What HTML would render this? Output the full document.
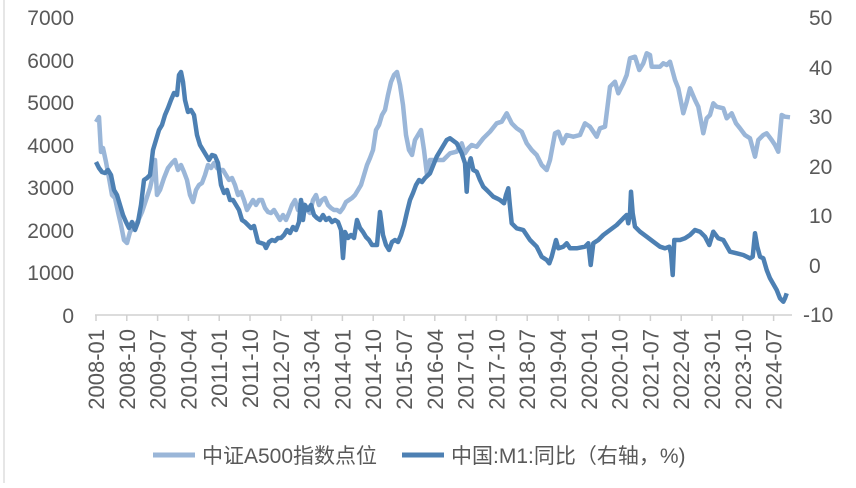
<!DOCTYPE html>
<html><head><meta charset="utf-8"><style>
html,body{margin:0;padding:0;background:#fff;}
svg text{font-family:"Liberation Sans","Noto Sans CJK SC",sans-serif;fill:#595959;}
</style></head><body>
<svg id="s" width="856" height="483" viewBox="0 0 856 483" xmlns="http://www.w3.org/2000/svg">
<line x1="4" y1="0" x2="4" y2="483" stroke="#ddd" stroke-width="1.5"/>
<g font-size="21" text-anchor="end">
<text x="74" y="25">7000</text><text x="74" y="68">6000</text><text x="74" y="110">5000</text>
<text x="74" y="153">4000</text><text x="74" y="195">3000</text><text x="74" y="238">2000</text>
<text x="74" y="280">1000</text><text x="74" y="323">0</text>
</g>
<g font-size="21" text-anchor="start">
<text x="809" y="25">50</text><text x="809" y="75">40</text><text x="809" y="124">30</text>
<text x="809" y="174">20</text><text x="809" y="223">10</text><text x="809" y="273">0</text>
<text x="803" y="322">-10</text>
</g>
<line x1="95" y1="315" x2="792" y2="315" stroke="#d0d0d0" stroke-width="1.5"/>
<g id="ticks"></g>
<polyline id="light" fill="none" stroke="#9ab6d8" stroke-width="4.5" stroke-linejoin="round"/>
<polyline id="dark" fill="none" stroke="#4d80b3" stroke-width="4.5" stroke-linejoin="round"/>
<line x1="153" y1="455" x2="195" y2="455" stroke="#9ab6d8" stroke-width="5"/>
<text x="202" y="463" font-size="21">中证A500指数点位</text>
<line x1="402" y1="455" x2="444" y2="455" stroke="#4d80b3" stroke-width="5"/>
<text x="451" y="463" font-size="21">中国:M1:同比（右轴，%)</text>
</svg>
<script>
var NS="http://www.w3.org/2000/svg";
var labels=["2008-01","2008-10","2009-07","2010-04","2011-01","2011-10","2012-07","2013-04","2014-01","2014-10","2015-07","2016-04","2017-01","2017-10","2018-07","2019-04","2020-01","2020-10","2021-07","2022-04","2023-01","2023-10","2024-07"];
var g=document.getElementById("ticks");
labels.forEach(function(l,i){
 var x=96+i*30.8;
 var ln=document.createElementNS(NS,"line");
 ln.setAttribute("x1",x);ln.setAttribute("x2",x);ln.setAttribute("y1",315);ln.setAttribute("y2",321);
 ln.setAttribute("stroke","#d0d0d0");ln.setAttribute("stroke-width","1.5");g.appendChild(ln);
 var t=document.createElementNS(NS,"text");
 t.setAttribute("transform","translate("+(x+8)+",329) rotate(-90)");
 t.setAttribute("text-anchor","end");t.setAttribute("font-size","22");t.textContent=l;g.appendChild(t);
});
var lightL=[96,122,99,117,101,152,103,148,106,162,109,178,112,195,115,198,118,212,121,225,124,240,127,243,130,232,134,226,138,221,142,212,146,200,150,188,153,175,155,160,157,195,160,190,164,178,168,168,172,163,175,160,178,170,181,165,184,172,187,180,190,195,193,202,196,190,199,185,202,183,205,175,208,165,211,168,214,163,217,168,220,170,223,170,226,175,229,180,232,178,235,185,238,195,241,192,244,200,247,210,250,205,253,200,256,205,259,200,262,200,265,208,268,212,271,213,274,210,277,215,280,220,283,215,286,220,289,213,292,205,295,200,298,210,301,202,304,205,307,210,310,213,313,200,316,195,319,205,322,200,325,198,328,205,331,208,334,210,337,210,340,212,343,208,346,202,349,200,352,198,355,195,358,190,361,185,364,175,367,165,370,158,373,150,376,130,379,125,382,115,385,110,388,95,391,82,394,75,397,72,400,85,403,105,406,135,409,150,412,155,415,140,418,135,421,130,424,150,427,175];
var lightR=[0,480,40,480,60,460,80,455,95,430,105,460,115,445,125,435,140,440,160,415,180,395,200,370,215,365,230,340,245,370,260,385,275,395,290,430,305,450,320,465,335,495,350,510,360,480,375,400,385,395,398,430,410,405,430,410,450,405,465,370,480,380,500,410,510,385,525,380,540,260,555,245,565,280,580,250,590,225,600,175,615,170,628,210,640,190,650,160,660,165,665,200,690,200,700,190,710,195,720,185,735,240,745,265,760,340,770,305,780,265,795,300,805,320,820,400,830,355,840,345,850,310,860,320,880,325,890,355,905,340,918,370,930,385,945,405,960,415,975,470,985,420,1000,405,1010,400,1025,420,1035,435,1045,455,1055,345,1065,350,1080,352];
var darkL=[96,162,99,168,102,172,105,173,108,170,111,175,114,190,117,195,120,205,123,215,126,222,129,228,132,222,135,230,138,222,141,205,144,180,147,178,150,175,153,150,156,140,159,130,162,125,165,115,168,108,171,100,174,93,177,95,179,75,181,72,183,82,185,100,188,112,191,110,194,115,197,135,200,145,203,150,206,155,209,160,212,155,215,156,218,163,221,185,224,193,227,190,230,200,233,200,236,205,239,210,242,220,245,222,248,225,251,228,254,226,258,242,261,243,264,244,266,248,269,242,272,240,275,241,278,238,281,238,284,235,287,230,290,233,293,227,296,230,299,222,301,200,303,220,305,205,308,210,311,205,314,215,317,218,320,220,323,215,326,220,329,218,332,222,335,220,338,222,341,230,343,258,345,232,348,238,351,235,354,238,357,220,360,228,363,232,366,237,369,240,372,245,375,245,377,245,380,212,383,235,386,245,389,250,392,242,395,240,398,242,401,235,404,225,407,212,410,200,413,193,416,185,419,180,422,182,425,178];
var darkR=[0,520,20,470,50,420,60,415,80,430,95,460,105,490,110,575,115,500,122,475,130,510,140,515,150,540,160,560,170,570,180,580,190,590,200,595,210,600,222,610,228,585,235,565,240,620,245,670,260,685,280,690,300,720,320,740,335,770,350,780,358,790,365,770,378,720,385,745,400,740,410,730,420,745,440,745,465,740,475,730,482,795,490,730,505,720,520,705,540,690,560,675,580,655,590,645,595,670,600,640,603,575,608,640,615,680,630,695,650,710,670,725,690,740,705,745,718,740,723,760,728,825,733,720,750,720,765,715,780,705,795,690,810,695,825,710,838,735,850,695,865,715,880,720,900,755,920,760,940,765,960,775,968,770,975,700,982,740,990,770,1000,775,1010,810,1020,835,1040,870,1050,895,1060,905,1065,895,1070,880];
function build(L,R){var p=[];for(var i=0;i<L.length;i+=2)p.push(L[i]+","+L[i+1]);
for(var j=0;j<R.length;j+=2)p.push((430+R[j]/3).toFixed(1)+","+(R[j+1]/3).toFixed(1));return p.join(" ");}
document.getElementById("light").setAttribute("points",build(lightL,lightR));
document.getElementById("dark").setAttribute("points",build(darkL,darkR));
</script>
</body></html>
